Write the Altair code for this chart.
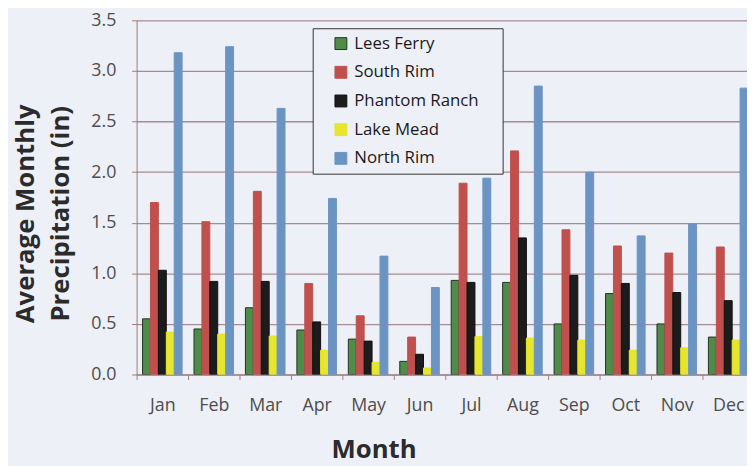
import altair as alt
import pandas as pd

months = ["Jan", "Feb", "Mar", "Apr", "May", "Jun", "Jul", "Aug", "Sep", "Oct", "Nov", "Dec"]
stations = ["Lees Ferry", "South Rim", "Phantom Ranch", "Lake Mead", "North Rim"]

lees_ferry = [0.55, 0.45, 0.66, 0.44, 0.35, 0.13, 0.93, 0.91, 0.50, 0.80, 0.50, 0.37]
south_rim = [1.70, 1.51, 1.81, 0.90, 0.58, 0.37, 1.89, 2.21, 1.43, 1.27, 1.20, 1.26]
phantom_ranch = [1.03, 0.92, 0.92, 0.52, 0.33, 0.20, 0.91, 1.35, 0.98, 0.90, 0.81, 0.73]
lake_mead = [0.42, 0.40, 0.38, 0.24, 0.12, 0.065, 0.375, 0.36, 0.34, 0.24, 0.265, 0.34]
north_rim = [3.18, 3.24, 2.63, 1.74, 1.17, 0.86, 1.94, 2.85, 2.00, 1.37, 1.49, 2.83]

y_ticks = [0.0, 0.5, 1.0, 1.5, 2.0, 2.5, 3.0, 3.5]

fills = ["#4f8c49", "#c0504d", "#1c1c1c", "#e6e62e", "#6c94c2"]
strokes = ["#243322", "#c0504d", "#0f0f0f", "#e6e62e", "#6c94c2"]

series = [lees_ferry, south_rim, phantom_ranch, lake_mead, north_rim]
rows = []
for name, vals in zip(stations, series):
    for m, v in zip(months, vals):
        rows.append({"Month": m, "Station": name, "Value": v})
df = pd.DataFrame(rows)

BG = "#eef0f7"
FONT = "Open Sans"

legend = alt.Legend(
    title=None, orient="none", legendX=178, legendY=8, direction="vertical",
    symbolType="square", symbolSize=144, symbolStrokeWidth=1,
    labelFont=FONT, labelFontSize=17, labelColor="#1a1a1a",
    labelOffset=5, symbolOffset=13, rowPadding=11, padding=7,
    strokeColor="#333333", fillColor=BG,
    labelExpr="datum.label + '\u2003\u200b'",
)

chart = alt.Chart(df).mark_bar(strokeWidth=1, clip=True).encode(
    x=alt.X(
        "Month:N", sort=months,
        scale=alt.Scale(domain=months, range=[0, 624], paddingInner=0, paddingOuter=0),
        axis=alt.Axis(
            tickBand="extent", labelAngle=0, grid=False,
            domainColor="#a08080", tickColor="#a08080", tickSize=5,
            labelFont=FONT, labelFontSize=18, labelColor="#4d4d4d", labelPadding=17,
            title="Month", titleFont=FONT, titleFontSize=26, titleFontWeight="bold",
            titleColor="#2b2b2b", titleX=239.5, titleY=84, titleAlign="center",
            titleBaseline="alphabetic",
        ),
    ),
    xOffset=alt.XOffset(
        "Station:N", sort=stations,
        scale=alt.Scale(domain=stations, paddingInner=0, paddingOuter=0.75),
    ),
    y=alt.Y(
        "Value:Q",
        scale=alt.Scale(domain=[0, 3.5], nice=False),
        axis=alt.Axis(
            values=y_ticks, format=".1f", grid=True,
            gridColor="#a58c90", gridWidth=1.3,
            domainColor="#a07878", tickColor="#a07878", tickSize=5,
            labelFont=FONT, labelFontSize=18, labelColor="#4d4d4d", labelPadding=16,
            title=["Average Monthly", "Precipitation (in)"],
            titleFont=FONT, titleFontSize=26, titleFontWeight="bold", titleColor="#2b2b2b",
            titleX=-104, titleY=195, titleAngle=270, titleAlign="center",
            titleBaseline="alphabetic", titleLineHeight=35,
        ),
    ),
    color=alt.Color("Station:N", sort=stations,
                    scale=alt.Scale(domain=stations, range=fills), legend=legend),
    stroke=alt.Stroke("Station:N", sort=stations,
                      scale=alt.Scale(domain=stations, range=strokes), legend=legend),
).properties(
    width=617, height=358,
    autosize=alt.AutoSizeParams(type="none"),
    padding={"left": 130, "top": 10, "right": 0, "bottom": 90},
    background=BG,
).configure_view(stroke=None)

chart.save("out.html", embed_options={"renderer": "svg", "actions": False})
